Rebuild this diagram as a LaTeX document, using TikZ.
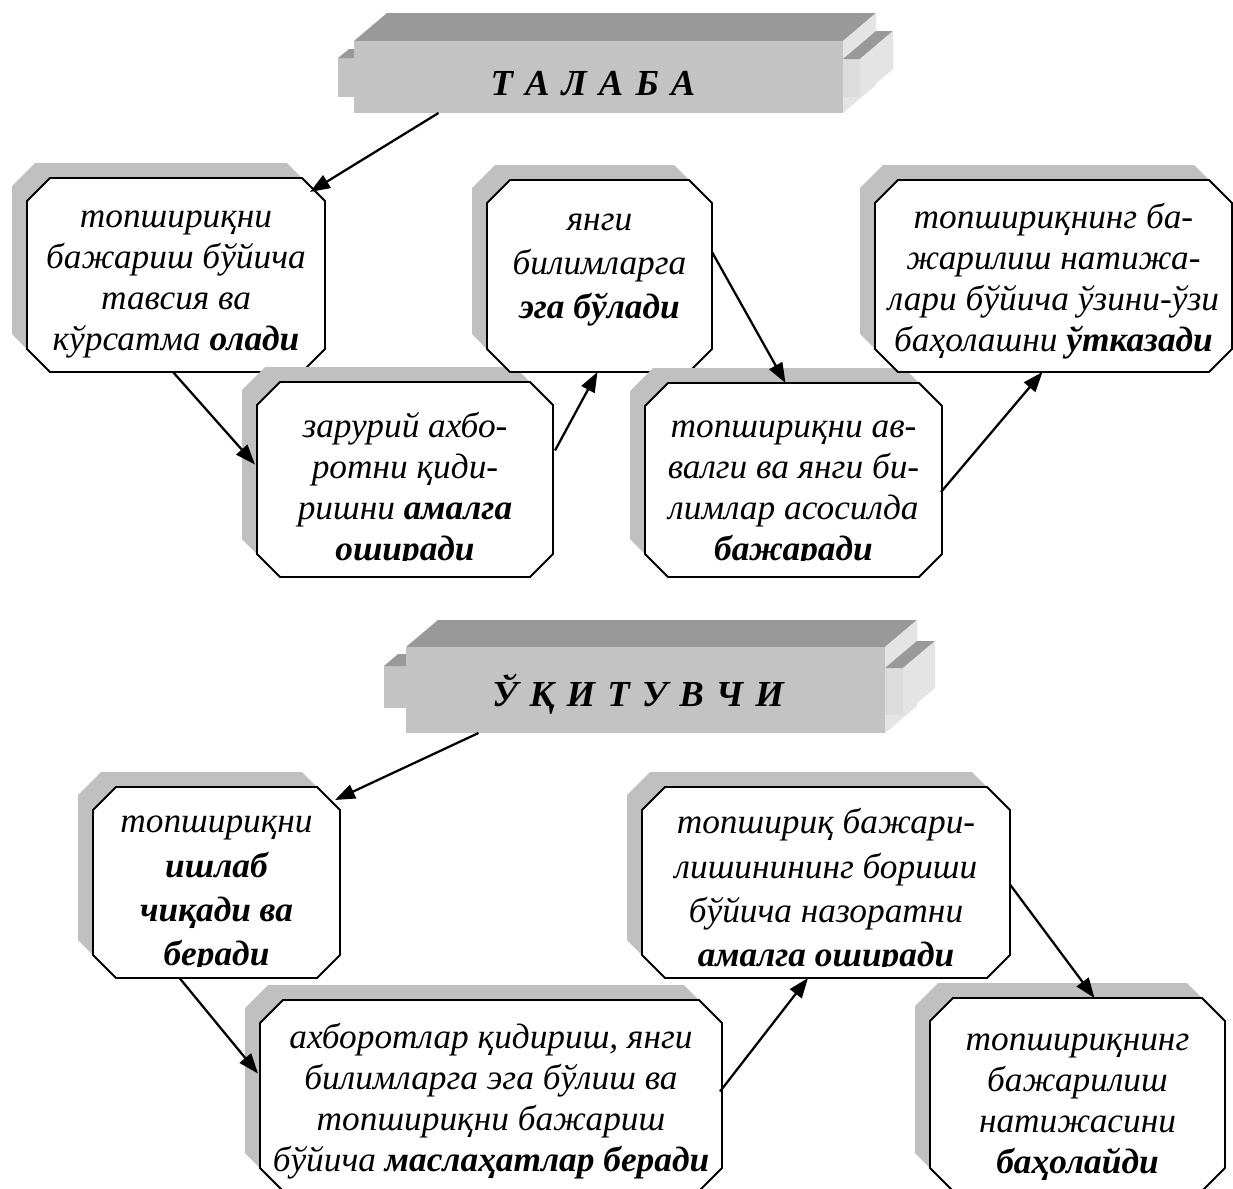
\documentclass[tikz,border=0pt]{standalone}
\usepackage{fontspec}
\setmainfont{Liberation Serif}
\usetikzlibrary{calc,arrows.meta}
\definecolor{shadowgray}{HTML}{C0C0C0}
\definecolor{facefront}{HTML}{C3C3C3}
\definecolor{facetop}{HTML}{999999}
\definecolor{faceside}{HTML}{E4E4E4}
\definecolor{facetab}{HTML}{DCDCDC}
\tikzset{
  shadowfill/.style={fill=shadowgray},
  boxline/.style={draw=black, line width=1.4pt, fill=white, line join=miter},
  boxarea/.style={rectangle, inner sep=0pt, outer sep=0pt},
  boxtext/.style={anchor=north, align=center, inner sep=0pt, font=\fontsize{26.5}{30.75}\selectfont\itshape},
  bannerface/.style={rectangle, fill=facefront, inner sep=0pt, outer sep=0pt},
  bannertext/.style={inner sep=0pt, font=\fontsize{27.5}{30}\selectfont\bfseries\itshape},
  arr/.style={line width=1.7pt, -{Triangle[length=15pt,width=11pt]}}
}
\newcommand{\gp}{\hspace{0.33em}}
\newcommand{\octpath}[5]{\path[#1] ({#2+23},{#3}) -- ({#4-23},{#3}) -- ({#4},{#3+23}) -- ({#4},{#5-23}) -- ({#4-23},{#5}) -- ({#2+23},{#5}) -- ({#2},{#5-23}) -- ({#2},{#3+23}) -- cycle;}
% #1 name, #2 x1, #3 y1, #4 x2, #5 y2, #6 first line centre, #7 bottom inset of the text area, #8 text
\newcommand{\octbox}[8]{%
  \octpath{shadowfill}{#2-15}{#3-15}{#4-15}{#5-15}
  \octpath{boxline}{#2}{#3}{#4}{#5}
  \node[boxarea, minimum width={(#4-#2)*0.75pt}, minimum height={(#5-#3)*0.75pt}] (#1) at ({(#2+#4)/2},{(#3+#5)/2}) {};
  \begin{scope}
    \clip (#2,#3) rectangle (#4,{#5-#7});
    \node[boxtext] (#1t) at ({(#2+#4)/2},{#6-18}) {#8};
  \end{scope}}
\begin{document}
\begin{tikzpicture}[x=0.75pt,y=-0.75pt]
\clip (0,0) rectangle (1233,1189);
\fill[white] (0,0) rectangle (1233,1189);
% ---------- banner 1 ----------
\fill[facetop] (354,41) -- (387,13) -- (876,13) -- (843,41) -- cycle;
\fill[faceside] (843,41) -- (876,13) -- (876,85) -- (843,113) -- cycle;
\fill[facefront] (338,58) rectangle (354,97);
\fill[facetop] (338,58) -- (349,49) -- (354,49) -- (354,58) -- cycle;
\fill[facetab] (843,59) rectangle (860,97);
\fill[facetop] (843,59) -- (876,31) -- (893,31) -- (860,59) -- cycle;
\fill[faceside] (860,59) -- (893,31) -- (893,69) -- (860,97) -- cycle;
\node[bannerface, minimum width={(843-354)*0.75pt}, minimum height={(113-41)*0.75pt}] (T1) at (598.5,77) {};
\node[bannertext] (T1t) at (593,84) {Т\gp А\gp Л\gp А\gp Б\gp А};
% ---------- top boxes ----------
\octbox{A}{27}{178}{325}{372}{217}{7}{\strut топшириқни\\\strut бажариш бўйича\\\strut тавсия ва\\\strut кўрсатма \textbf{олади}}
\octbox{B}{257}{382}{553}{577}{427}{17}{\strut зарурий ахбо-\\\strut ротни қиди-\\\strut ришни \textbf{амалга}\\\strut\textbf{оширади}}
\octbox{C}{487}{180}{712}{372}{220}{7}{\strut янги\\[2pt]\strut билимларга\\[2pt]\strut\textbf{эга бўлади}}
\octbox{D}{645}{383}{942}{577}{427}{17}{\strut топшириқни ав-\\\strut валги ва янги би-\\\strut лимлар асосилда\\\strut\textbf{бажаради}}
\octbox{E}{875}{180}{1232}{372}{218}{7}{\strut топшириқнинг ба-\\\strut жарилиш натижа-\\\strut лари бўйича ўзини-ўзи\\\strut баҳолашни \textbf{ўтказади}}
% ---------- banner 2 ----------
\fill[facetop] (406,647) -- (438,620) -- (917,620) -- (885,647) -- cycle;
\fill[faceside] (885,647) -- (917,620) -- (917,706) -- (885,733) -- cycle;
\fill[facefront] (384,666) rectangle (406,708);
\fill[facetop] (384,666) -- (398,654) -- (406,654) -- (406,666) -- cycle;
\fill[facetab] (885,668) rectangle (903,715);
\fill[facetop] (885,668) -- (917,641) -- (935,641) -- (903,668) -- cycle;
\fill[faceside] (903,668) -- (935,641) -- (935,688) -- (903,715) -- cycle;
\node[bannerface, minimum width={(885-406)*0.75pt}, minimum height={(733-647)*0.75pt}] (T2) at (645.5,690) {};
\node[bannertext] (T2t) at (638,694) {Ў\gp Қ\gp И\gp Т\gp У\gp В\gp Ч\gp И};
% ---------- bottom boxes ----------
\octbox{F}{93}{787}{340}{978}{822}{12}{\strut топшириқни\\[2.3pt]\strut\textbf{ишлаб}\\[2.3pt]\strut\textbf{чиқади ва}\\[2.3pt]\strut\textbf{беради}}
\octbox{G}{260}{1000}{722}{1191}{1038}{4}{\strut ахборотлар қидириш, янги\\\strut билимларга эга бўлиш ва\\\strut топшириқни бажариш\\\strut бўйича \textbf{маслаҳатлар беради}}
\octbox{H}{642}{787}{1010}{978}{823}{12}{\strut топшириқ бажари-\\[2.3pt]\strut лишинининг бориши\\[2.3pt]\strut бўйича назоратни\\[2.3pt]\strut\textbf{амалга оширади}}
\octbox{I}{930}{998}{1225}{1191}{1040}{4}{\strut топшириқнинг\\\strut бажарилиш\\\strut натижасини\\\strut\textbf{баҳолайди}}
% ---------- connectors ----------
\draw[arr] ($(T1.south)+(-160,0)$) -- ($(A.north east)+(-15,14)$);
\draw[arr] ($(A.south)+(-3,0)$) -- ($(B.west)+(-2,-15)$);
\draw[arr] ($(B.east)+(2,-29)$) -- ($(C.south)+(-2,0)$);
\draw[arr] ($(C.east)+(0,-24)$) -- ($(D.north)+(-8,0)$);
\draw[arr] ($(D.east)+(-1,12)$) -- ($(E.south)+(-11,0)$);
\draw[arr] ($(T2.south)+(-167,0)$) -- ($(F.north east)+(-5,13)$);
\draw[arr] ($(F.south)+(-37,0)$) -- ($(G.west)+(-2,-22)$);
\draw[arr] ($(G.east)+(-2,-4)$) -- ($(H.south)+(-18,0)$);
\draw[arr] ($(H.east)+(0,2)$) -- ($(I.north)+(17,0)$);
\end{tikzpicture}
\end{document}
